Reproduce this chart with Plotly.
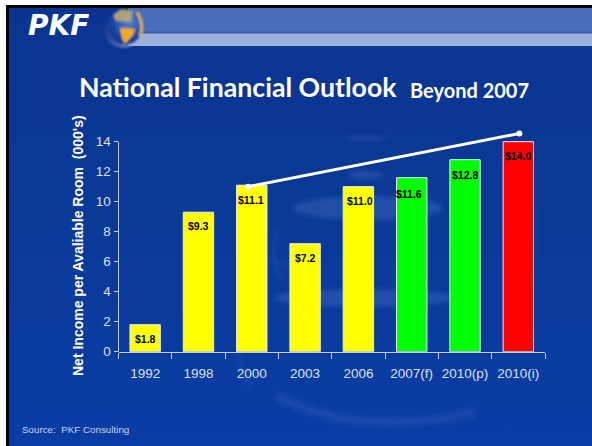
import base64
import plotly.graph_objects as go

W, H = 592, 446

categories = ["1992", "1998", "2000", "2003", "2006", "2007(f)", "2010(p)", "2010(i)"]
income = [1.8, 9.3, 11.1, 7.2, 11.0, 11.6, 12.8, 14.0]
bar_colors = ["#ffff00"] * 5 + ["#00ff00", "#00ff00", "#ff0000"]
bar_labels = ["$1.8", "$9.3", "$11.1", "$7.2", "$11.0", "$11.6", "$12.8", "$14.0"]
label_dx = [0, 0, -1, 0, 2, -3, 0, 0]
label_dy = [-14, -14, -15, -14, -14, -16, -15, -14]

trend_x = [1.93, 7.02]
trend_y = [11.0, 14.55]

y_ticks = [0, 2, 4, 6, 8, 10, 12, 14]
Y_MAX = 14.8

PLOT_L, PLOT_R, PLOT_B = 118.5, 545.0, 351.7
PX_PER_UNIT = 15.0
PLOT_T = PLOT_B - Y_MAX * PX_PER_UNIT

# Slide backdrop: frame, header band, globe and the faint glass shapes
backdrop = f'''<svg xmlns="http://www.w3.org/2000/svg" width="{W}" height="{H}" viewBox="0 0 {W} {H}">
<defs>
<linearGradient id="bg" x1="0" y1="0" x2="0" y2="1">
<stop offset="0" stop-color="#0a3490"/><stop offset="0.5" stop-color="#0a3a98"/><stop offset="1" stop-color="#0a3ca4"/>
</linearGradient>
<radialGradient id="ball" cx="0.6" cy="0.35" r="0.75">
<stop offset="0" stop-color="#5c86cc"/><stop offset="0.6" stop-color="#1a48a6"/><stop offset="1" stop-color="#0c2f80"/>
</radialGradient>
<linearGradient id="halo" x1="0" y1="0" x2="1" y2="1">
<stop offset="0" stop-color="#0a3490" stop-opacity="0"/><stop offset="1" stop-color="#b8c6e8" stop-opacity="0.8"/>
</linearGradient>
<filter id="b1"><feGaussianBlur stdDeviation="0.9"/></filter>
<filter id="b3"><feGaussianBlur stdDeviation="2.5"/></filter>
</defs>
<rect width="{W}" height="{H}" fill="#ffffff"/>
<rect x="6" y="5" width="{W-6}" height="{H-5}" fill="#000000"/>
<rect x="9" y="8" width="{W-9}" height="{H-8}" fill="url(#bg)"/>
<rect x="128" y="8" width="{W-128}" height="25" fill="#4a6cbd"/>
<rect x="128" y="33" width="{W-128}" height="13" fill="#9db0dc"/>
<rect x="128" y="31.5" width="{W-128}" height="2" fill="#3d5cac"/>
<g fill="#5f86d2" opacity="0.28" filter="url(#b3)">
<ellipse cx="368" cy="208" rx="75" ry="12"/>
<ellipse cx="365" cy="298" rx="92" ry="9"/>
<ellipse cx="366" cy="175" rx="18" ry="4"/>
<ellipse cx="366" cy="138" rx="22" ry="2"/>
</g>
<g fill="none" stroke="#5f86d2" opacity="0.18" filter="url(#b3)">
<path d="M 277 230 Q 268 255 282 280" stroke-width="3"/>
<path d="M 270 260 Q 290 262 300 270" stroke-width="3"/>
<path d="M 275 395 Q 360 440 475 412" stroke-width="9"/>
<path d="M 238 352 Q 240 370 252 388" stroke-width="3"/>
</g>
<g filter="url(#b1)">
<circle cx="123" cy="29" r="19" fill="url(#halo)"/>
<circle cx="125.5" cy="27" r="17.5" fill="url(#ball)"/>
<path d="M 120 28 L 135 29 L 133 35 L 125 44 L 122 38 Z" fill="#f4ac14"/>
<path d="M 113 15 L 121 9 L 133 11 L 131 22 L 123 21 L 116 21 Z" fill="#c2ab6a" opacity="0.85"/>
<path d="M 137 12 Q 145 24 140 37" fill="none" stroke="#dcb348" stroke-width="3"/>
</g>
</svg>'''
backdrop_uri = "data:image/svg+xml;base64," + base64.b64encode(backdrop.encode()).decode()

fig = go.Figure()

fig.add_bar(
    x=list(range(len(categories))),
    y=income,
    width=0.57,
    marker=dict(color=bar_colors, line=dict(color="#e8ecf7", width=1)),
    hoverinfo="skip",
)

# Projected growth line running from the 2000 peak to the 2010 indicator
fig.add_scatter(
    x=trend_x,
    y=trend_y,
    mode="lines+markers",
    line=dict(color="#ffffff", width=3),
    marker=dict(color="#ffffff", size=6),
    hoverinfo="skip",
)

AXIS = "#c3cce6"
TICK_FONT = dict(family="Liberation Sans, Arial", size=13.5, color="#dbe2f3")
fig.update_layout(
    width=W,
    height=H,
    margin=dict(l=0, r=0, t=0, b=0, autoexpand=False),
    paper_bgcolor="#0a3a98",
    plot_bgcolor="rgba(0,0,0,0)",
    showlegend=False,
    xaxis=dict(
        domain=[PLOT_L / W, PLOT_R / W],
        range=[-0.5, 7.5],
        tickmode="array",
        tickvals=list(range(len(categories))),
        ticktext=categories,
        ticks="outside",
        ticklen=9,
        tickcolor="rgba(0,0,0,0)",
        minor=dict(tick0=-0.5, dtick=1, ticks="outside", ticklen=6, tickcolor=AXIS, showgrid=False),
        showline=True,
        linecolor=AXIS,
        linewidth=1,
        showgrid=False,
        zeroline=False,
        tickfont=TICK_FONT,
    ),
    yaxis=dict(
        domain=[1 - PLOT_B / H, 1 - PLOT_T / H],
        range=[0, Y_MAX],
        tickmode="array",
        tickvals=y_ticks,
        ticks="outside",
        ticklen=4,
        tickcolor=AXIS,
        showline=False,
        showgrid=False,
        zeroline=False,
        tickfont=TICK_FONT,
    ),
    # The value axis stops at its top tick even though the line rises above it
    shapes=[dict(
        type="line", xref="x domain", yref="y",
        x0=0, x1=0, y0=0, y1=y_ticks[-1],
        line=dict(color=AXIS, width=1),
    )],
    images=[
        dict(
            source=backdrop_uri,
            xref="paper", yref="paper",
            x=0, y=1,
            sizex=1, sizey=1,
            xanchor="left", yanchor="top",
            sizing="stretch",
            layer="below",
        )
    ],
)

annotations = []
for i, (val, text, dx, dy) in enumerate(zip(income, bar_labels, label_dx, label_dy)):
    annotations.append(dict(
        x=i, y=val, xref="x", yref="y", text=text, showarrow=False,
        xshift=dx, yshift=dy, xanchor="center", yanchor="middle",
        font=dict(family="Liberation Sans, Arial", size=10.5, color="#000000", weight="bold"),
    ))


def page_text(x, y, text, size, color="#ffffff", family="Lato, Liberation Sans", bold=True, angle=0, anchor="left"):
    return dict(
        xref="paper", yref="paper", x=x / W, y=1 - y / H, text=text, showarrow=False,
        xanchor=anchor, yanchor="middle", textangle=angle,
        font=dict(family=family, size=size, color=color, weight="bold" if bold else "normal"),
    )


annotations += [
    page_text(77, 87, "National Financial Outlook", 26.7),
    page_text(408, 90, "Beyond 2007", 20),
    page_text(78, 245, "Net Income per Avaliable Room  (000's)", 14, family="Liberation Sans, Arial", angle=-90, anchor="center"),
    page_text(20, 429, "Source:  PKF Consulting", 9.8, color="#c8d4ee", family="Liberation Sans, Arial", bold=False),
    page_text(26, 26, "<i>PKF</i>", 28, family="DejaVu Sans, Liberation Sans"),
]
fig.update_layout(annotations=annotations)

fig.write_html("out.html")
